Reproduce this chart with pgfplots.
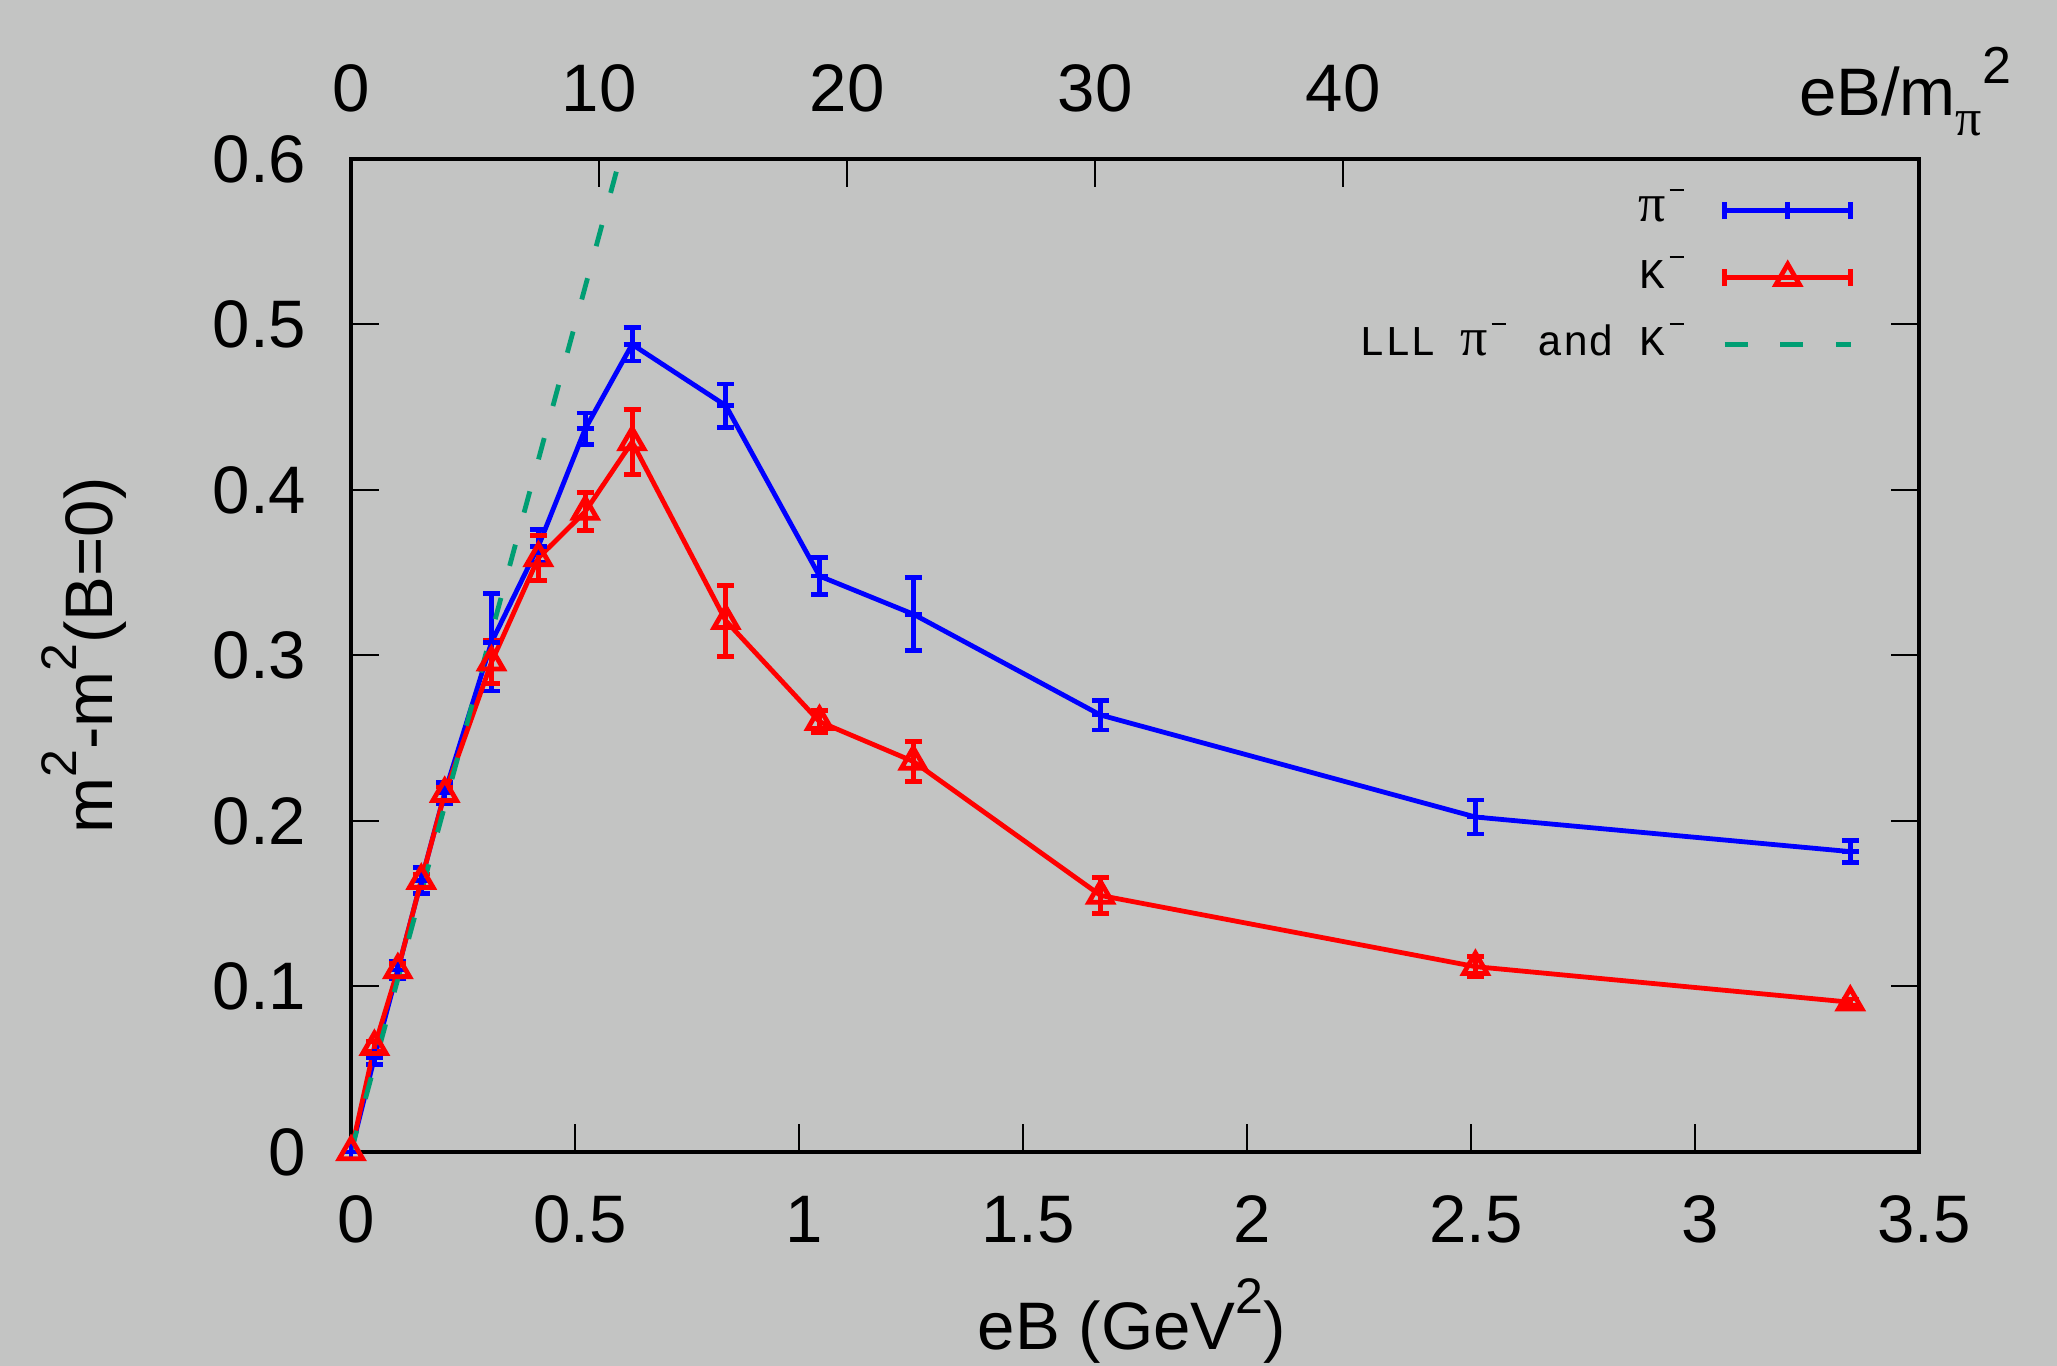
\documentclass[border=0pt]{standalone}
\usepackage{fontspec}
\setmainfont{Liberation Sans}
\newfontfamily\monof{Liberation Mono}
\newfontfamily\serff{Liberation Serif}
\usepackage{pgfplots}
\pgfplotsset{compat=1.18}
\usepackage{pgfplotstable}
\definecolor{bg}{RGB}{195,196,195}
\definecolor{lllgreen}{RGB}{0,158,115}

\pgfplotstableread{
x y ey
0 0 0
0.0523 0.057 0.004
0.1046 0.110 0.005
0.1569 0.164 0.008
0.2092 0.217 0.0065
0.3137 0.308 0.0295
0.4183 0.366 0.010
0.5229 0.437 0.0095
0.6275 0.488 0.010
0.8366 0.451 0.013
1.0458 0.348 0.011
1.2550 0.325 0.022
1.6733 0.264 0.009
2.5099 0.2024 0.0103
3.3466 0.1815 0.0066
}\pidata

\pgfplotstableread{
x y ey
0 0 0
0.0523 0.0636 0.003
0.1046 0.110 0.004
0.1569 0.164 0.004
0.2092 0.2165 0.004
0.3137 0.296 0.013
0.4183 0.359 0.0136
0.5229 0.387 0.0115
0.6275 0.429 0.0196
0.8366 0.321 0.0215
1.0458 0.260 0.0066
1.2550 0.236 0.012
1.6733 0.155 0.011
2.5099 0.112 0.0063
3.3466 0.0905 0.002
}\kdata

\newcommand{\supr}[1]{\raisebox{9bp}{\fontsize{12.5bp}{14bp}\selectfont #1}}
\newcommand{\lsup}{\makebox[6.36bp][l]{\hspace{1.2bp}\rule[7.6bp]{3.6bp}{0.6bp}}}
\newcommand{\lpi}{\makebox[6.36bp][c]{\serff\fontsize{13.5bp}{14bp}\selectfont π}}

\begin{document}
\fontsize{16.8bp}{20bp}\selectfont
\begin{tikzpicture}
\path[use as bounding box, fill=bg] (-87.75bp,-53.5bp) rectangle (426.5bp,288bp);

\begin{axis}[
  at={(0,0)}, anchor=south west,
  scale only axis, width=392bp, height=248.25bp,
  xmin=0, xmax=3.5, ymin=0, ymax=0.6,
  xtick={0,0.5,1,1.5,2,2.5,3,3.5},
  ytick={0,0.1,0.2,0.3,0.4,0.5,0.6},
  xtick pos=left,
  tick align=inside,
  major tick length=7bp,
  every tick/.style={black, line width=0.5bp},
  axis line style={line width=1bp},
  ticklabel style={font=\fontsize{16.8bp}{20bp}\selectfont},
  /pgf/number format/assume math mode=true,
  yticklabel style={xshift=-5.4bp},
  xticklabel style={yshift=-5.2bp, xshift=1.2bp},
  clip=false,
  legend plot pos=right,
  legend cell align=right,
  legend style={draw=none, fill=none, at={(rel axis cs:0.958,0.969)}, anchor=north east,
    font=\monof\fontsize{10.6bp}{12bp}\selectfont,
    inner sep=0pt, outer sep=0pt, row sep=6.25bp, column sep=8bp,
    nodes={inner sep=0pt, text height=8bp, text depth=2.5bp}},
]
\addplot[blue, line width=1.2bp, mark=+, mark size=2.1bp,
  legend image code/.code={
    \draw[blue, line width=1.2bp] (0bp,0bp) -- (31.5bp,0bp);
    \draw[blue, line width=1.2bp] (0bp,-2.1bp) -- (0bp,2.1bp) (31.5bp,-2.1bp) -- (31.5bp,2.1bp) (15.75bp,-2.1bp) -- (15.75bp,2.1bp);
  },
  error bars/.cd, y dir=both, y explicit,
  error bar style={line width=1.2bp},
  error mark options={blue, rotate=90, line width=1.2bp, mark size=2.1bp},
  ]
  table[x=x, y=y, y error=ey] {\pidata};
\addlegendentry{\lpi\lsup}

\addplot[red, line width=1.2bp, mark=triangle, mark size=3.4bp, mark options={solid},
  legend image code/.code={
    \draw[red, line width=1.2bp] (0bp,0bp) -- (31.5bp,0bp);
    \draw[red, line width=1.2bp] (0bp,-2.1bp) -- (0bp,2.1bp) (31.5bp,-2.1bp) -- (31.5bp,2.1bp);
    \path[red, line width=1.2bp, mark size=3.4bp] plot[mark=triangle, only marks] coordinates {(15.75bp,0bp)};
  },
  error bars/.cd, y dir=both, y explicit,
  error bar style={line width=1.2bp},
  error mark options={red, rotate=90, line width=1.2bp, mark size=2.1bp},
  ]
  table[x=x, y=y, y error=ey] {\kdata};
\addlegendentry{K\lsup}

\addplot[lllgreen, line width=1.2bp, dash pattern=on 5.5bp off 8.3bp,
  legend image code/.code={
    \draw[lllgreen, line width=1.2bp, dash pattern=on 5.75bp off 8.15bp] (0bp,0bp) -- (31.5bp,0bp);
  }] coordinates {(0,0) (0.6,0.6)};
\addlegendentry{LLL \lpi\lsup\ and K\lsup}

\node[rotate=90, anchor=base] at (rel axis cs:-0.1524,0.5) {m\supr{2}-m\supr{2}(B=0)};
\node[anchor=base] at (rel axis cs:0.498,-0.1984) {eB (GeV\supr{2})};
\node[anchor=base west, inner sep=0pt] at (rel axis cs:0.923,1.0443)
  {eB/m\raisebox{-5bp}{\serff\fontsize{13bp}{14bp}\selectfont π}\raisebox{8bp}{\fontsize{13bp}{14bp}\selectfont 2}};
\end{axis}

\begin{axis}[
  at={(0,0)}, anchor=south west,
  scale only axis, width=392bp, height=248.25bp,
  xmin=0, xmax=63.21, ymin=0, ymax=1,
  axis x line*=top, hide y axis,
  xtick={0,10,20,30,40},
  tick align=inside,
  major tick length=7bp,
  every tick/.style={black, line width=0.5bp},
  axis line style={line width=1bp},
  ticklabel style={font=\fontsize{16.8bp}{20bp}\selectfont},
  /pgf/number format/assume math mode=true,
  xticklabel style={yshift=5.9bp},
]
\addplot[draw=none] coordinates {(0,0)};
\end{axis}
\end{tikzpicture}
\end{document}
